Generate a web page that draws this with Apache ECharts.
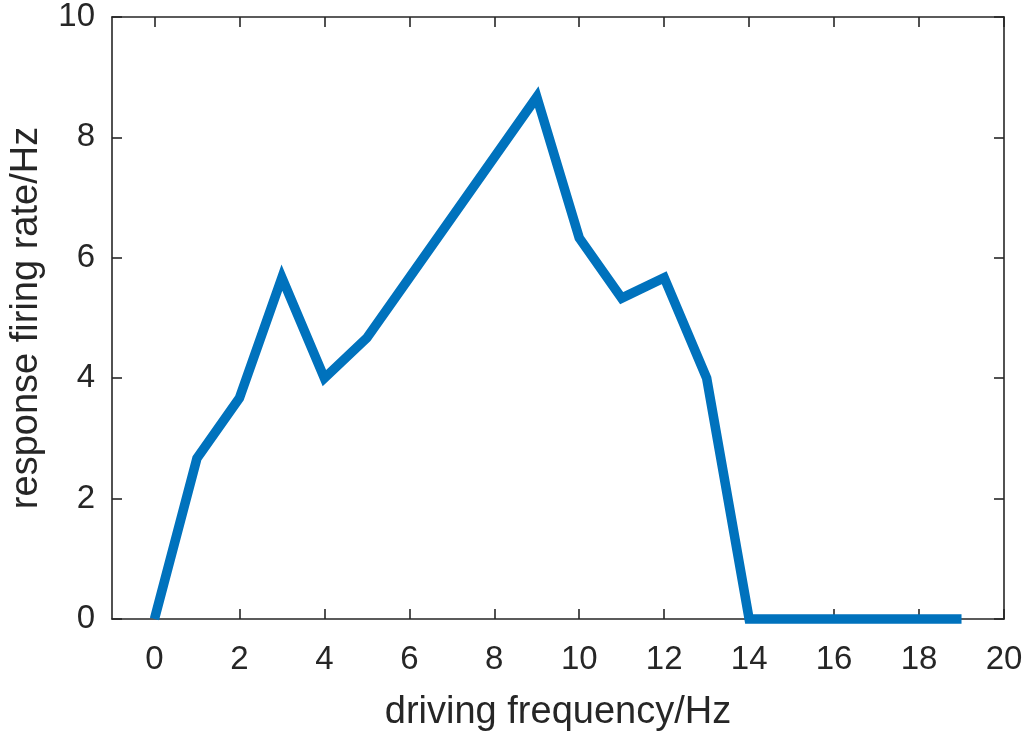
<!DOCTYPE html>
<html>
<head>
<meta charset="utf-8">
<script src="https://cdn.jsdelivr.net/npm/echarts@6/dist/echarts.min.js"></script>
<style>html,body{margin:0;padding:0;background:#fff;}#c{width:1028px;height:731px;}</style>
</head>
<body>
<div id="c"></div>
<script>
const frequencies = [0,1,2,3,4,5,6,7,8,9,10,11,12,13,14,15,16,17,18,19];
const firingRates = [0,2.67,3.67,5.67,4,4.67,5.67,6.67,7.67,8.67,6.33,5.33,5.67,4,0,0,0,0,0,0];
const xTicks = [0,2,4,6,8,10,12,14,16,18,20];
const yTicks = [0,2,4,6,8,10];

const chart = echarts.init(document.getElementById('c'));
const axisColor = '#262626';
const font = 'Liberation Sans';
const lineStyle = {color: axisColor, width: 1.6};
const axLine = {show: true, onZero: false, lineStyle: lineStyle};
const tick = {show: true, inside: true, length: 10, lineStyle: lineStyle};
chart.setOption({
  animation: false,
  grid: {left: 112, right: 24, top: 17, bottom: 112, containLabel: false, outerBoundsMode: 'none'},
  xAxis: [
    {
      type: 'value', min: -1, max: 20, position: 'bottom',
      axisLine: axLine, splitLine: {show: false},
      axisTick: Object.assign({}, tick, {customValues: xTicks}),
      axisLabel: {customValues: xTicks, color: axisColor, fontSize: 33, fontFamily: font, margin: 24},
      name: 'driving frequency/Hz', nameLocation: 'middle', nameGap: 75,
      nameTextStyle: {color: axisColor, fontSize: 38, fontFamily: font}
    },
    {
      type: 'value', min: -1, max: 20, position: 'top',
      axisLine: axLine, splitLine: {show: false},
      axisTick: Object.assign({}, tick, {customValues: xTicks}),
      axisLabel: {show: false}
    }
  ],
  yAxis: [
    {
      type: 'value', min: 0, max: 10, position: 'left',
      axisLine: axLine, splitLine: {show: false},
      axisTick: Object.assign({}, tick, {customValues: yTicks}),
      axisLabel: {customValues: yTicks, color: axisColor, fontSize: 33, fontFamily: font, margin: 17},
      name: 'response firing rate/Hz', nameLocation: 'middle', nameGap: 66,
      nameTextStyle: {color: axisColor, fontSize: 38, fontFamily: font}
    },
    {
      type: 'value', min: 0, max: 10, position: 'right',
      axisLine: axLine, splitLine: {show: false},
      axisTick: Object.assign({}, tick, {customValues: yTicks}),
      axisLabel: {show: false}
    }
  ],
  series: [{
    type: 'line',
    data: frequencies.map((f, i) => [f, firingRates[i]]),
    showSymbol: false,
    symbol: 'none',
    lineStyle: {color: '#0072BD', width: 9.5, cap: 'butt', join: 'miter'},
    clip: false
  }]
});
</script>
</body>
</html>
